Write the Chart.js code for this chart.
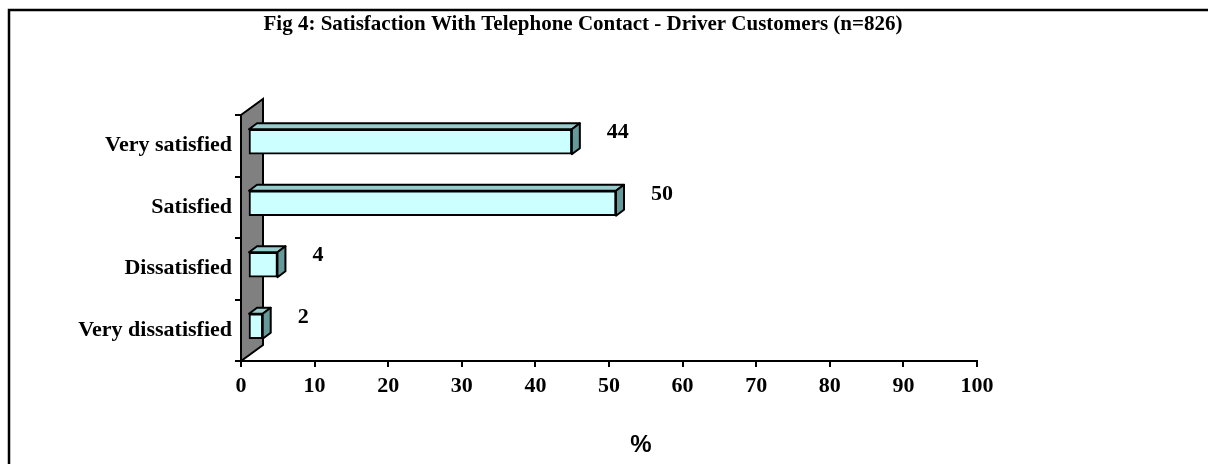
<!DOCTYPE html>
<html>
<head>
<meta charset="utf-8">
<script src="https://cdn.jsdelivr.net/npm/chart.js@4/dist/chart.umd.min.js"></script>
<style>
  html, body { margin: 0; padding: 0; background: #fff; }
  #wrap { width: 1208px; height: 464px; }
</style>
</head>
<body>
<div id="wrap"><canvas id="chartFig4"></canvas></div>
<script>
var chartTitle = 'Fig 4: Satisfaction With Telephone Contact - Driver Customers (n=826)';
var categories = ['Very satisfied', 'Satisfied', 'Dissatisfied', 'Very dissatisfied'];
var percents = [44, 50, 4, 2];
var xTicks = [0, 10, 20, 30, 40, 50, 60, 70, 80, 90, 100];
var xAxisTitle = '%';

var serif = '"Liberation Serif", "Times New Roman", serif';
var sans = '"Liberation Sans", Arial, sans-serif';
// fake 3d depth, same look as the old excel chart
var wallDx = 22, wallDy = -16;
var barDx = 8, barDy = -6;
var shiftX = 7, shiftY = -4;

var box3d = {
  id: 'box3d',
  beforeDraw(chart) {
    var ctx = chart.ctx;
    ctx.save();
    ctx.fillStyle = '#fff';
    ctx.fillRect(0, 0, chart.width, chart.height);
    ctx.strokeStyle = '#000';
    ctx.lineWidth = 2.5;
    ctx.beginPath();
    ctx.moveTo(9, chart.height + 5);
    ctx.lineTo(9, 10);
    ctx.lineTo(chart.width + 5, 10);
    ctx.stroke();
    // title
    ctx.fillStyle = '#000';
    ctx.font = 'bold 21px ' + serif;
    ctx.textAlign = 'center';
    ctx.textBaseline = 'middle';
    ctx.fillText(chartTitle, 583, 25);
    // axis title sits right of the axis centre in the original
    ctx.font = 'bold 24px ' + sans;
    ctx.fillText(xAxisTitle, 641, 445);
    ctx.restore();
  },
  beforeDatasetsDraw(chart) {
    var ctx = chart.ctx;
    var a = chart.chartArea;
    // back wall
    ctx.save();
    ctx.fillStyle = '#808080';
    ctx.strokeStyle = '#000';
    ctx.lineWidth = 2;
    ctx.beginPath();
    ctx.moveTo(a.left, a.bottom);
    ctx.lineTo(a.left, a.top);
    ctx.lineTo(a.left + wallDx, a.top + wallDy);
    ctx.lineTo(a.left + wallDx, a.bottom + wallDy);
    ctx.closePath();
    ctx.fill();
    ctx.stroke();
    ctx.restore();
    ctx.save();
    ctx.translate(shiftX, shiftY);
  },
  afterDatasetsDraw(chart) {
    var ctx = chart.ctx;
    var meta = chart.getDatasetMeta(0);
    meta.data.forEach(function (bar, i) {
      var p = bar.getProps(['x', 'y', 'base', 'height']);
      var t = p.y - p.height / 2, b = p.y + p.height / 2;
      ctx.lineWidth = 2;
      ctx.strokeStyle = '#000';
      ctx.lineJoin = 'round';
      // top face
      ctx.fillStyle = '#99CCCC';
      ctx.beginPath();
      ctx.moveTo(p.base, t);
      ctx.lineTo(p.base + barDx, t + barDy);
      ctx.lineTo(p.x + barDx, t + barDy);
      ctx.lineTo(p.x, t);
      ctx.closePath();
      ctx.fill();
      ctx.stroke();
      // side face
      ctx.fillStyle = '#669999';
      ctx.beginPath();
      ctx.moveTo(p.x, t);
      ctx.lineTo(p.x + barDx, t + barDy);
      ctx.lineTo(p.x + barDx, b + barDy);
      ctx.lineTo(p.x, b);
      ctx.closePath();
      ctx.fill();
      ctx.stroke();
      // value label
      ctx.fillStyle = '#000';
      ctx.font = 'bold 22px ' + serif;
      ctx.textAlign = 'left';
      ctx.textBaseline = 'middle';
      ctx.fillText(String(percents[i]), p.x + 35, p.y - 9);
    });
    ctx.restore();
  }
};

var ctxB = document.getElementById('chartFig4').getContext('2d');
var fig4 = new Chart(ctxB, {
  type: 'bar',
  data: {
    labels: categories,
    datasets: [{
      data: percents,
      backgroundColor: '#CCFFFF',
      borderColor: '#000',
      borderWidth: 2,
      borderSkipped: false,
      barThickness: 25
    }]
  },
  options: {
    indexAxis: 'y',
    responsive: true,
    maintainAspectRatio: false,
    animation: false,
    layout: { padding: { top: 115, right: 231, bottom: 0, left: 0 } },
    plugins: {
      legend: { display: false },
      tooltip: { enabled: false },
      title: { display: false }
    },
    scales: {
      x: {
        min: 0,
        max: 100,
        afterBuildTicks: function (s) { s.ticks = xTicks.map(function (v) { return { value: v }; }); },
        afterFit: function (s) { s.height = 103; },
        grid: { drawOnChartArea: false, color: '#000', lineWidth: 2, tickLength: 6 },
        border: { color: '#000', width: 2 },
        ticks: { color: '#000', padding: 6, font: { family: serif, size: 22, weight: 'bold' } },
        title: { display: false }
      },
      y: {
        afterFit: function (s) { s.width = 241; },
        grid: { drawOnChartArea: false, color: '#000', lineWidth: 2, tickLength: 6 },
        border: { color: '#000', width: 2 },
        ticks: { color: '#000', padding: 3, font: { family: serif, size: 22, weight: 'bold' } }
      }
    }
  },
  plugins: [box3d]
});
</script>
</body>
</html>
